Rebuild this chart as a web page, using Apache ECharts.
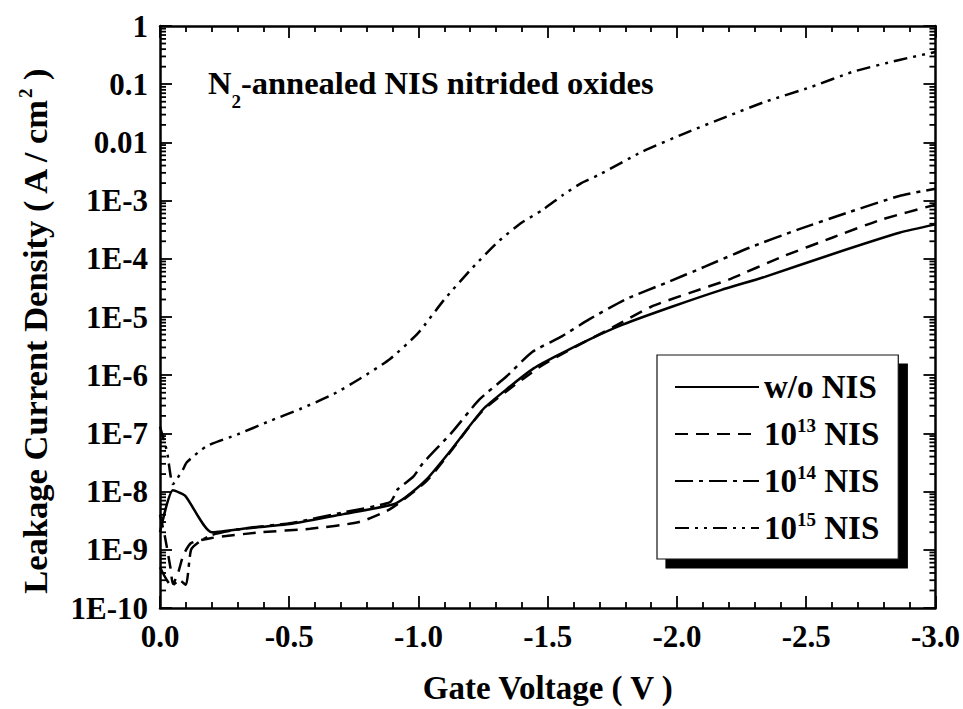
<!DOCTYPE html>
<html>
<head>
<meta charset="utf-8">
<script src="https://cdn.jsdelivr.net/npm/echarts@6/dist/echarts.min.js"></script>
<style>
  html, body { margin: 0; padding: 0; background: #fff; }
  #chart { width: 963px; height: 709px; }
</style>
</head>
<body>
<div id="chart"></div>
<script>
(function() {
  var ink = '#000';
  var serif = '"Liberation Serif","Times New Roman",serif';

  // --- data: [gate voltage (V), current density (A/cm2)] ---
  var woNIS = [
    [0, 2.0e-9], [-0.05, 1.05e-8], [-0.097, 8.5e-9], [-0.2, 2.0e-9], [-0.32, 2.3e-9],
    [-0.51, 2.8e-9], [-0.71, 4.1e-9], [-0.9, 6.0e-9], [-0.95, 8.0e-9], [-1.03, 1.6e-8],
    [-1.12, 4.8e-8], [-1.25, 2.6e-7], [-1.34, 5.7e-7], [-1.44, 1.26e-6], [-1.53, 2.1e-6],
    [-1.66, 4.1e-6], [-1.79, 7.4e-6], [-1.98, 1.5e-5], [-2.17, 2.9e-5], [-2.34, 4.9e-5],
    [-2.6, 1.2e-4], [-2.86, 2.8e-4], [-3.0, 3.9e-4]
  ];
  var nis13 = [
    [0, 4.0e-9], [-0.02, 1.6e-9], [-0.04, 5.0e-10], [-0.05, 2.6e-10], [-0.07, 4.0e-10],
    [-0.09, 8.0e-10], [-0.12, 1.3e-9], [-0.2, 1.6e-9], [-0.39, 2.0e-9], [-0.58, 2.3e-9],
    [-0.77, 3.0e-9], [-0.89, 5.0e-9], [-1.03, 1.5e-8], [-1.12, 4.6e-8], [-1.25, 2.5e-7],
    [-1.47, 1.4e-6], [-1.59, 2.8e-6], [-1.75, 6.6e-6], [-1.9, 1.5e-5], [-2.05, 2.6e-5],
    [-2.2, 4.4e-5], [-2.41, 1.1e-4], [-2.6, 2.3e-4], [-2.79, 4.7e-4], [-3.0, 8.5e-4]
  ];
  var nis14 = [
    [0, 5.0e-10], [-0.045, 2.4e-10], [-0.075, 3.0e-10], [-0.1, 2.5e-10], [-0.12, 1.0e-9],
    [-0.15, 1.35e-9], [-0.2, 1.8e-9], [-0.32, 2.3e-9], [-0.51, 2.9e-9], [-0.71, 4.4e-9],
    [-0.89, 6.6e-9], [-0.92, 1.1e-8], [-0.98, 1.8e-8], [-1.015, 3.0e-8], [-1.13, 1.05e-7],
    [-1.235, 3.8e-7], [-1.34, 9.5e-7], [-1.44, 2.5e-6], [-1.556, 4.7e-6], [-1.66, 9.1e-6],
    [-1.8, 2.0e-5], [-1.96, 3.9e-5], [-2.11, 7.4e-5], [-2.28, 1.55e-4], [-2.47, 3.2e-4],
    [-2.66, 6.2e-4], [-2.86, 1.2e-3], [-3.0, 1.6e-3]
  ];
  var nis15 = [
    [0, 1.3e-7], [-0.027, 4.9e-8], [-0.05, 1.35e-8], [-0.089, 2.4e-8], [-0.104, 3.2e-8],
    [-0.18, 6.0e-8], [-0.3, 9.6e-8], [-0.42, 1.6e-7], [-0.54, 2.6e-7], [-0.67, 4.7e-7],
    [-0.77, 8.5e-7], [-0.89, 1.9e-6], [-1.0, 5.4e-6], [-1.1, 2.0e-5], [-1.21, 7.1e-5],
    [-1.31, 2.0e-4], [-1.4, 4.2e-4], [-1.48, 6.9e-4], [-1.56, 1.26e-3], [-1.63, 2.0e-3],
    [-1.7, 2.8e-3], [-1.865, 6.9e-3], [-2.035, 0.0146], [-2.19, 0.0275], [-2.34, 0.0497],
    [-2.52, 0.09], [-2.68, 0.163], [-2.86, 0.261], [-3.0, 0.358]
  ];

  var seriesNames = ['w/o NIS', '10^13 NIS', '10^14 NIS', '10^15 NIS'];
  var yTickLabels = ['1E-10', '1E-9', '1E-8', '1E-7', '1E-6', '1E-5', '1E-4', '1E-3', '0.01', '0.1', '1'];
  var minorSteps = [2, 3, 4, 5, 6, 7, 8, 9];

  // log minor tick positions (2..9 x 10^k) for the left and right frame
  var yMinorTicks = [];
  for (var k = -10; k < 0; k++) {
    minorSteps.forEach(function(m) { yMinorTicks.push([0, m * Math.pow(10, k)]); });
  }

  function rich(size, lh) {
    return {
      b: { fontFamily: serif, fontWeight: 'bold', fontSize: size, lineHeight: lh, color: ink },
      sup: { fontFamily: serif, fontWeight: 'bold', fontSize: 19, lineHeight: 18, verticalAlign: 'top', color: ink },
      sub: { fontFamily: serif, fontWeight: 'bold', fontSize: 19, lineHeight: 18, verticalAlign: 'top', padding: [26, 0, 0, 0], color: ink }
    };
  }

  function legendLabel(name) {
    var m = name.match(/^10\^(\d+)(.*)$/);
    if (!m) return '{b|' + name + '}';
    return '{b|10}{sup|' + m[1] + '}{b|' + m[2] + '}';
  }

  var chart = echarts.init(document.getElementById('chart'), null, { renderer: 'svg' });

  function xAxisDef(pos, showLabels) {
    return {
      type: 'value',
      position: pos,
      min: -3,
      max: 0,
      interval: 0.5,
      inverse: true,
      axisLine: { onZero: false, lineStyle: { color: ink, width: 2.5 } },
      axisTick: { inside: true, length: 12, lineStyle: { color: ink, width: 1.8 } },
      minorTick: { show: true, splitNumber: 5, length: 6, lineStyle: { color: ink, width: 1.8 } },
      splitLine: { show: false },
      axisLabel: {
        show: showLabels,
        margin: 13,
        fontFamily: serif,
        fontWeight: 'bold',
        fontSize: 31,
        color: ink,
        formatter: function(v) { return v.toFixed(1); }
      },
      name: showLabels ? 'Gate Voltage ( V )' : '',
      nameLocation: 'middle',
      nameGap: 63,
      nameTextStyle: { fontFamily: serif, fontWeight: 'bold', fontSize: 33, color: ink }
    };
  }

  function yAxisDef(pos, showLabels) {
    return {
      type: 'log',
      logBase: 10,
      position: pos,
      min: 1e-10,
      max: 1,
      interval: 1,
      axisLine: { onZero: false, lineStyle: { color: ink, width: 2.5 } },
      axisTick: { inside: true, length: 12, lineStyle: { color: ink, width: 1.8 } },
      splitLine: { show: false },
      axisLabel: {
        show: showLabels,
        margin: 12,
        fontFamily: serif,
        fontWeight: 'bold',
        fontSize: 31,
        color: ink,
        formatter: function(v) { return yTickLabels[Math.round(Math.log10(v)) + 10]; }
      },
      name: showLabels ? '{b|Leakage Current Density ( A / cm}{sup|2}{b| )}' : '',
      nameLocation: 'middle',
      nameRotate: 90,
      nameGap: 106,
      nameTextStyle: { rich: rich(34.5, 38), padding: [0, 30, 0, 0] }
    };
  }

  var dashTypes = ['solid', [13, 8], [18, 6, 4, 6], [14, 6, 3, 6, 3, 6]];
  var seriesData = [woNIS, nis13, nis14, nis15];

  var lineSeries = seriesNames.map(function(name, i) {
    return {
      name: name,
      type: 'line',
      data: seriesData[i],
      symbol: 'none',
      smooth: 0.2,
      lineStyle: { color: ink, width: 2.5, type: dashTypes[i] },
      itemStyle: { color: ink },
      z: 3
    };
  });

  var option = {
    animation: false,
    backgroundColor: '#fff',
    grid: { left: 160, right: 26, top: 26, bottom: 100 },
    xAxis: [xAxisDef('bottom', true), xAxisDef('top', false)],
    yAxis: [yAxisDef('left', true), yAxisDef('right', false)],
    legend: {
      data: seriesNames,
      orient: 'vertical',
      left: 657,
      top: 355,
      padding: [14, 19, 13, 17],
      itemWidth: 84,
      itemHeight: 14,
      itemGap: 11,
      backgroundColor: '#fff',
      borderColor: '#111',
      borderWidth: 1.2,
      borderRadius: 0,
      shadowColor: '#000',
      shadowBlur: 0,
      shadowOffsetX: 9,
      shadowOffsetY: 9,
      selectedMode: false,
      itemStyle: { color: 'rgba(0,0,0,0)', borderWidth: 0, opacity: 0 },
      formatter: legendLabel,
      textStyle: { rich: rich(33, 36), fontSize: 33, lineHeight: 36 }
    },
    graphic: [{
      type: 'text',
      left: 208,
      top: 66,
      style: {
        text: '{b|N}{sub|2}{b|-annealed NIS nitrided oxides}',
        rich: rich(32.5, 34)
      }
    }],
    series: lineSeries.concat([{
      type: 'custom',
      name: 'minor',
      silent: true,
      clip: false,
      data: yMinorTicks,
      renderItem: function(params, api) {
        var v = api.value(1);
        var l = api.coord([0, v]);
        var r = api.coord([-3, v]);
        return {
          type: 'group',
          children: [
            { type: 'line', shape: { x1: l[0], y1: l[1], x2: l[0] + 6, y2: l[1] }, style: { stroke: ink, lineWidth: 1.8 } },
            { type: 'line', shape: { x1: r[0], y1: r[1], x2: r[0] - 6, y2: r[1] }, style: { stroke: ink, lineWidth: 1.8 } }
          ]
        };
      }
    }])
  };

  chart.setOption(option);
  window.addEventListener('resize', function() { chart.resize(); });
})();
</script>
</body>
</html>
